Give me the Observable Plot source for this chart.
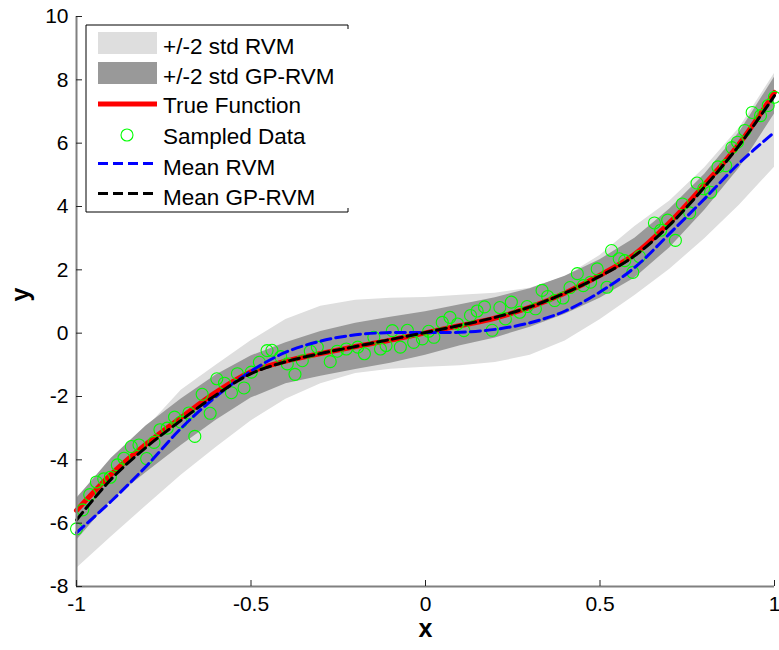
<!DOCTYPE html>
<html><head><meta charset="utf-8">
<script src="https://cdn.jsdelivr.net/npm/d3@7"></script>
<script src="https://cdn.jsdelivr.net/npm/@observablehq/plot@0.6"></script>
<style>body{margin:0;background:#fff;} svg{display:block;}</style>
</head><body><div id="chart"></div>
<script>
// x grid for curves and bands
const gridX    = [-1, -0.9, -0.8, -0.7, -0.6, -0.5, -0.4, -0.3, -0.2, -0.1, 0, 0.1, 0.2, 0.3, 0.4, 0.5, 0.6, 0.7, 0.8, 0.9, 1];
const trueF    = [-5.6, -4.45, -3.5, -2.66, -1.86, -1.22, -0.88, -0.64, -0.42, -0.22, 0.01, 0.24, 0.48, 0.82, 1.27, 1.83, 2.5, 3.5, 4.7, 6.0, 7.6];
const meanRVM  = [-6.3, -5.3, -4.2, -3.0, -2.0, -1.2, -0.6, -0.25, -0.05, 0.02, 0.02, 0.03, 0.12, 0.33, 0.7, 1.3, 2.08, 3.15, 4.25, 5.38, 6.35];
const meanGP   = [-5.9, -4.6, -3.6, -2.75, -1.95, -1.28, -0.9, -0.64, -0.42, -0.2, 0.02, 0.25, 0.5, 0.83, 1.27, 1.8, 2.45, 3.42, 4.62, 5.95, 7.5];
const rvmUpper = [-5.2, -4.1, -3.0, -1.8, -1.01, -0.24, 0.43, 0.85, 1.04, 1.1, 1.13, 1.2, 1.26, 1.42, 1.77, 2.45, 3.37, 4.17, 5.22, 6.49, 8.2];
const rvmLower = [-7.43, -6.43, -5.45, -4.49, -3.61, -2.77, -2.09, -1.6, -1.27, -1.14, -1.08, -1.03, -0.93, -0.7, -0.25, 0.42, 1.19, 2.02, 2.98, 4.05, 5.24];
const gpUpper  = [-5.23, -3.95, -2.92, -2.08, -1.32, -0.72, -0.3, 0.05, 0.31, 0.5, 0.68, 0.9, 1.12, 1.4, 1.8, 2.32, 3.0, 3.92, 5.02, 6.35, 8.08];
const gpLower  = [-6.55, -5.28, -4.4, -3.55, -2.75, -2.05, -1.6, -1.36, -1.15, -0.95, -0.7, -0.4, -0.15, 0.19, 0.6, 1.1, 1.74, 2.7, 3.88, 5.22, 6.92];

// sampled data
const sampleX = [-1.0, -0.982, -0.962, -0.943, -0.922, -0.903, -0.883, -0.864, -0.843, -0.821, -0.799, -0.778, -0.761, -0.74, -0.719, -0.701, -0.678, -0.661, -0.64, -0.617, -0.598, -0.576, -0.556, -0.539, -0.52,
  -0.499, -0.476, -0.454, -0.44, -0.415, -0.396, -0.374, -0.353, -0.33, -0.31, -0.273, -0.253, -0.227, -0.194, -0.175, -0.148, -0.129, -0.113, -0.095, -0.072, -0.052, -0.034, -0.009, 0.009,
  0.024, 0.048, 0.07, 0.092, 0.11, 0.129, 0.148, 0.169, 0.191, 0.213, 0.229, 0.246, 0.27, 0.291, 0.315, 0.334, 0.35, 0.37, 0.394, 0.414, 0.435, 0.452, 0.473, 0.492, 0.52, 0.533, 0.555, 0.571, 0.594, 0.613,
  0.656, 0.674, 0.694, 0.716, 0.736, 0.757, 0.778, 0.797, 0.817, 0.838, 0.86, 0.878, 0.894, 0.915, 0.936, 0.96, 0.982, 1.0];
const sampleY = [-6.18, -5.58, -5.1, -4.7, -4.6, -4.55, -4.16, -3.95, -3.58, -3.53, -3.96, -3.45, -3.05, -3.0, -2.65, -2.81, -2.52, -3.26, -1.93, -2.53, -1.44, -1.58, -1.88, -1.28, -1.73,
  -1.23, -0.92, -0.55, -0.54, -0.74, -0.97, -1.3, -0.87, -0.57, -0.44, -0.9, -0.57, -0.5, -0.44, -0.65, -0.13, -0.5, -0.39, 0.08, -0.44, 0.09, -0.29, -0.18, 0.06,
  -0.13, 0.34, 0.5, 0.29, 0.08, 0.56, 0.7, 0.83, 0.09, 0.81, 0.45, 0.98, 0.66, 0.84, 0.77, 1.35, 1.16, 1.03, 1.11, 1.44, 1.88, 1.5, 1.61, 2.03, 1.45, 2.61, 2.35, 2.29, 1.92, 2.42,
  3.48, 3.25, 3.57, 2.93, 4.08, 3.8, 4.74, 4.56, 4.45, 5.25, 5.29, 5.86, 6.03, 6.4, 6.97, 6.87, 7.19, 7.45];

const xTicks = [-1, -0.5, 0, 0.5, 1];
const yTicks = [-8, -6, -4, -2, 0, 2, 4, 6, 8, 10];

const legendLabels = ["+/-2 std RVM", "+/-2 std GP-RVM", "True Function", "Sampled Data", "Mean RVM", "Mean GP-RVM"];

const curveRows = gridX.map((x, i) => ({x, t: trueF[i], rvm: meanRVM[i], gp: meanGP[i], ru: rvmUpper[i], rl: rvmLower[i], gu: gpUpper[i], gl: gpLower[i]}));
const samples = sampleX.map((x, i) => ({x, y: sampleY[i]}));

const font = "'Liberation Sans', Arial, Helvetica, sans-serif";

const chart = Plot.plot({
  width: 779, height: 650,
  marginLeft: 76, marginRight: 5, marginTop: 16, marginBottom: 64,
  style: {fontFamily: font, fontSize: "21px", background: "#fff", color: "#000"},
  x: {domain: [-1, 1]},
  y: {domain: [-8, 10]},
  marks: [
    Plot.areaY(curveRows, {x: "x", y1: "rl", y2: "ru", fill: "#dedede"}),
    Plot.areaY(curveRows, {x: "x", y1: "gl", y2: "gu", fill: "#999999"}),
    Plot.line(curveRows, {x: "x", y: "t", stroke: "#ff0000", strokeWidth: 5, curve: "catmull-rom"}),
    Plot.dot(samples, {x: "x", y: "y", r: 6, stroke: "#00ff00", strokeWidth: 1.1, fill: "none"}),
    Plot.line(curveRows, {x: "x", y: "rvm", stroke: "#0000ff", strokeWidth: 3, strokeDasharray: "10,5", curve: "catmull-rom"}),
    Plot.line(curveRows, {x: "x", y: "gp", stroke: "#000000", strokeWidth: 3, strokeDasharray: "10,5", curve: "catmull-rom"}),
    Plot.ruleY([-8], {stroke: "#808080", strokeWidth: 2}),
    Plot.ruleX([-1], {stroke: "#808080", strokeWidth: 2}),
    Plot.axisX(xTicks, {tickSize: -6, tickFormat: () => "", stroke: "#222", label: null}),
    Plot.axisY(yTicks, {tickSize: -6, tickFormat: () => "", stroke: "#222", label: null}),
    Plot.axisX(xTicks, {tickSize: 0, tickPadding: 10, tickFormat: d => String(d), fontSize: 21, label: null}),
    Plot.axisY(yTicks, {tickSize: 0, tickPadding: 8, tickFormat: d => String(d), fontSize: 21, label: null}),
    Plot.text(["x"], {frameAnchor: "bottom", dy: 50, fontSize: 25, fontWeight: "bold", fill: "#000"}),
    Plot.text(["y"], {frameAnchor: "left", dx: -56, rotate: -90, fontSize: 25, fontWeight: "bold", fill: "#000"})
  ]
});
document.getElementById("chart").appendChild(chart);

// legend
const svg = d3.select(chart);
const lg = svg.append("g").attr("font-family", font).attr("font-size", 22.5).attr("text-anchor", "start");
lg.append("rect").attr("x", 86).attr("y", 25).attr("width", 262).attr("height", 187).attr("fill", "#fff");
lg.append("path").attr("d", "M348,25H86V212H348 M348,25v4 M348,212v-4").attr("fill", "none").attr("stroke", "#000").attr("stroke-width", 1);
const rowY = [43, 73, 104, 135, 163.5, 193.5];
lg.append("rect").attr("x", 98).attr("y", rowY[0] - 11).attr("width", 59).attr("height", 22).attr("fill", "#dedede");
lg.append("rect").attr("x", 98).attr("y", rowY[1] - 11).attr("width", 59).attr("height", 22).attr("fill", "#999999");
lg.append("line").attr("x1", 98).attr("x2", 157).attr("y1", rowY[2]).attr("y2", rowY[2]).attr("stroke", "#ff0000").attr("stroke-width", 5);
lg.append("circle").attr("cx", 127).attr("cy", rowY[3]).attr("r", 6).attr("fill", "none").attr("stroke", "#00ff00").attr("stroke-width", 1.1);
lg.append("line").attr("x1", 98).attr("x2", 157).attr("y1", rowY[4]).attr("y2", rowY[4]).attr("stroke", "#0000ff").attr("stroke-width", 3).attr("stroke-dasharray", "10,5");
lg.append("line").attr("x1", 98).attr("x2", 157).attr("y1", rowY[5]).attr("y2", rowY[5]).attr("stroke", "#000").attr("stroke-width", 3).attr("stroke-dasharray", "10,5");
const textBase = [54, 84, 113, 144, 175, 205];
legendLabels.forEach((t, i) => {
  lg.append("text").attr("x", 163).attr("y", textBase[i]).attr("fill", "#000").attr("text-anchor", "start").text(t);
});
</script>
</body></html>
